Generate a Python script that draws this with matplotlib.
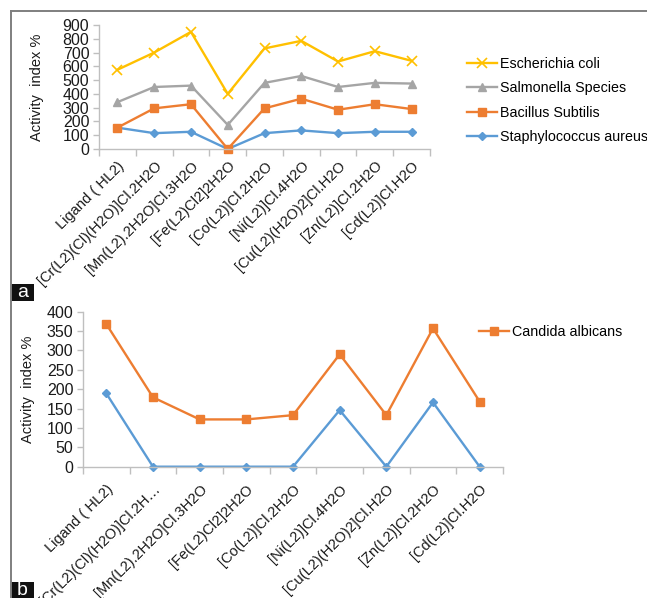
import matplotlib
matplotlib.use("Agg")
import matplotlib.pyplot as plt
from matplotlib.lines import Line2D
from matplotlib.patches import Rectangle

plt.rcParams['font.family'] = ['Liberation Sans', 'DejaVu Sans']

# Compounds tested
compounds = [
    "Ligand ( HL2)",
    "[Cr(L2)(Cl)(H2O)]Cl.2H2O",
    "[Mn(L2).2H2O]Cl.3H2O",
    "[Fe(L2)Cl2]2H2O",
    "[Co(L2)]Cl.2H2O",
    "[Ni(L2)]Cl.4H2O",
    "[Cu(L2)(H2O)2]Cl.H2O",
    "[Zn(L2)]Cl.2H2O",
    "[Cd(L2)]Cl.H2O",
]
compounds_b = list(compounds)
compounds_b[1] = "[Cr(L2)(Cl)(H2O)]Cl.2H\u2026"

# Antibacterial activity index (%)
e_coli = [575, 700, 850, 400, 730, 785, 635, 710, 640]
salmonella = [340, 450, 460, 175, 480, 530, 450, 480, 475]
bacillus = [155, 295, 325, 0, 295, 365, 285, 325, 290]
staph = [155, 115, 125, 0, 115, 135, 115, 125, 125]

# Antifungal activity index (%)
candida = [368, 179, 122, 122, 133, 290, 133, 357, 168]
second_series = [189, 0, 0, 0, 0, 146, 0, 166, 0]

yticks_a = list(range(0, 901, 100))
yticks_b = list(range(0, 401, 50))

C_YEL = "#FFC000"
C_GRY = "#A5A5A5"
C_ORG = "#ED7D31"
C_BLU = "#5B9BD5"

W, H = 647, 598
fig = plt.figure(figsize=(W / 100, H / 100), dpi=100)


def px_axes(left, top, right, bottom):
    return fig.add_axes([left / W, 1 - bottom / H, (right - left) / W, (bottom - top) / H])


def style_axes(ax, labels, yticks, ylabelpad, xpad):
    n = len(labels)
    x = list(range(n))
    ax.set_xlim(-0.5, n - 0.5)
    ax.set_ylim(yticks[0], yticks[-1])
    ax.set_yticks(yticks)
    ax.set_xticks(x)
    ax.set_xticklabels(labels, rotation=45, ha="right", va="top",
                       rotation_mode="anchor", fontsize=10.5, color="#1a1a1a")
    ax.set_xticks([i - 0.5 for i in range(n + 1)], minor=True)
    ax.tick_params(axis="x", which="major", length=0, pad=xpad)
    ax.tick_params(axis="x", which="minor", length=5, color="#BFBFBF", width=1)
    ax.tick_params(axis="y", length=4, color="#BFBFBF", width=1,
                   labelsize=11.5, labelcolor="#1a1a1a", pad=3)
    for s in ("top", "right"):
        ax.spines[s].set_visible(False)
    for s in ("left", "bottom"):
        ax.spines[s].set_color("#BFBFBF")
        ax.spines[s].set_linewidth(1)
    ax.set_ylabel("Activity  index %", fontsize=10.5, color="#1a1a1a",
                  labelpad=ylabelpad)
    ax.patch.set_alpha(0)
    return x


# Panel a: bacteria
ax1 = px_axes(99, 25, 430, 149)
x = style_axes(ax1, compounds, yticks_a, 13, 7)
lw = 1.7
l_st, = ax1.plot(x, staph, color=C_BLU, lw=lw, marker="D", ms=4, label="Staphylococcus aureus", clip_on=False)
l_ba, = ax1.plot(x, bacillus, color=C_ORG, lw=lw, marker="s", ms=6, label="Bacillus Subtilis", clip_on=False)
l_sa, = ax1.plot(x, salmonella, color=C_GRY, lw=lw, marker="^", ms=6, label="Salmonella Species", clip_on=False)
l_ec, = ax1.plot(x, e_coli, color=C_YEL, lw=lw, marker="x", ms=7, mew=1.2, label="Escherichia coli", clip_on=False)
ax1.legend(handles=[l_ec, l_sa, l_ba, l_st], loc="upper left",
           bbox_to_anchor=(467 / W, 1 - 57 / H), bbox_transform=fig.transFigure,
           frameon=False, fontsize=10.3, handlelength=2.1, handletextpad=0.2,
           labelspacing=0.72, borderaxespad=0, borderpad=0)

# Panel b: fungus
ax2 = px_axes(83, 311.7, 503, 466.7)
x = style_axes(ax2, compounds_b, yticks_b, 8, 11)
ax2.plot(x, second_series, color=C_BLU, lw=lw, marker="D", ms=4, clip_on=False)
l_ca, = ax2.plot(x, candida, color=C_ORG, lw=lw, marker="s", ms=6, label="Candida albicans", clip_on=False)
ax2.legend(handles=[l_ca], loc="upper left",
           bbox_to_anchor=(479 / W, 1 - 325 / H), bbox_transform=fig.transFigure,
           frameon=False, fontsize=10.3, handlelength=2.1, handletextpad=0.2,
           borderaxespad=0, borderpad=0)

# Outer frame
frame_kw = dict(color="#7F7F7F", lw=1.4, transform=fig.transFigure)
fig.add_artist(Line2D([11 / W, 1], [1 - 11 / H, 1 - 11 / H], **frame_kw))
fig.add_artist(Line2D([11 / W, 11 / W], [1 - 11 / H, 0], **frame_kw))

# Panel tags
for tag, top in (("a", 284), ("b", 582)):
    fig.add_artist(Rectangle((11 / W, 1 - (top + 17) / H), 23 / W, 17 / H,
                             transform=fig.transFigure, facecolor="#111111",
                             edgecolor="none"))
    fig.text(22.5 / W, 1 - (top + 8.5) / H, tag, color="white", fontsize=14,
             ha="center", va="center")

fig.savefig("out.png", dpi=100)
